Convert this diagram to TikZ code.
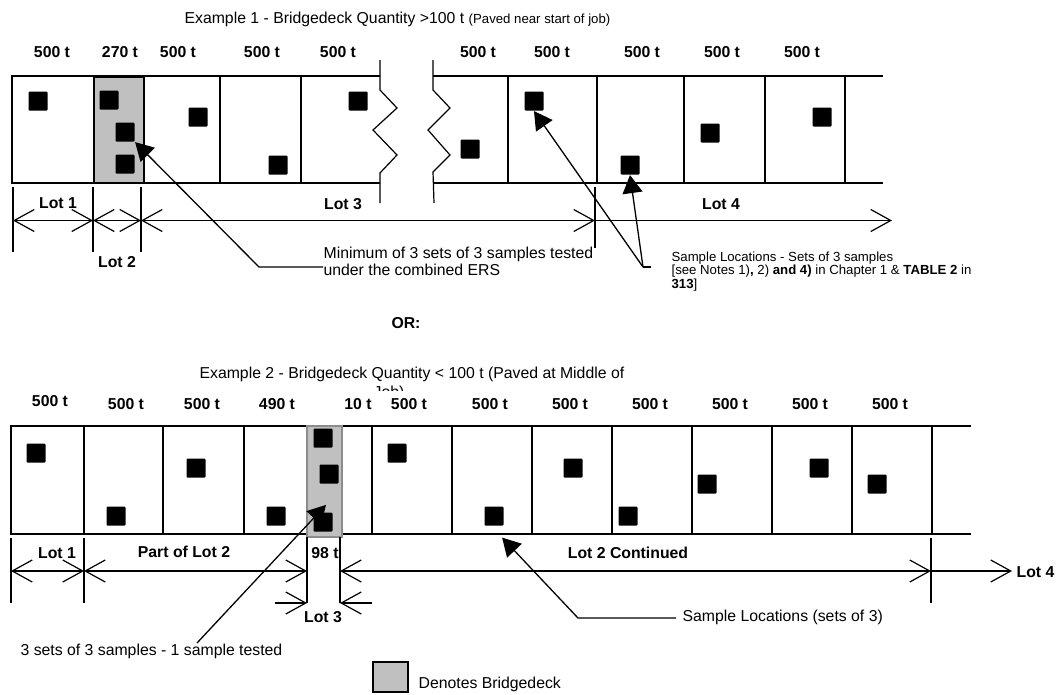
\documentclass[tikz,border=0pt]{standalone}
\usepackage{fontspec}
\setmainfont{Liberation Sans}
\usetikzlibrary{arrows.meta}
\definecolor{deckgray}{HTML}{C0C0C0}
\newcommand\mainsz{\fontsize{15.8}{17}\selectfont}
\newcommand\smlsz{\fontsize{13.2}{13.5}\selectfont}
\tikzset{
  barb/.tip={Straight Barb[length=20pt,width=22pt]},
  tri/.tip={Triangle[length=18pt,width=20pt]},
}
\begin{document}
\begin{tikzpicture}[x=1pt,y=-1pt,line width=1.2pt,
  sq/.style={fill=black,draw=none,minimum size=19pt,inner sep=0pt,rounded corners=1pt},
  lbl/.style={font=\mainsz\bfseries,inner sep=0pt},
  txt/.style={font=\mainsz,inner sep=0pt,anchor=base west,align=left},
  mtxt/.style={font=\mainsz,inner sep=0pt,anchor=north west,align=left},
  sml/.style={font=\smlsz,inner sep=0pt,anchor=north west,align=left},
  deckA/.style={fill=deckgray,draw=black,line width=1.5pt},
  deckB/.style={fill=deckgray,draw=black!45,line width=1.5pt},
  dimlr/.style={line width=1.2pt,barb-barb},
  dimr/.style={line width=1.2pt,-barb},
  lead/.style={line width=1.3pt,-tri},
]
\useasboundingbox (0,0) rectangle (1057,694);

% ================= Example 1 =================
\node[txt] (t1) at (184,23.7) {Example 1 - Bridgedeck Quantity >100 t {\smlsz (Paved near start of job)}};

\foreach \x/\t/\n in {52/500 t/p1,120/270 t/p2,178/500 t/p3,262/500 t/p4,338/500 t/p5,
                      478/500 t/p6,552/500 t/p7,642/500 t/p8,722/500 t/p9,802/500 t/p10}
  \node[lbl] (\n) at (\x,52) {\t};

% strip, left part
\draw (380,76) -- (12,76) -- (12,183) -- (380,183);
\draw[deckA] (94,77) rectangle (144,183);
\draw (220,76) -- (220,183);
\draw (301,76) -- (301,183);
% break lines
\draw (380,60) -- (380,90) -- (397,108) -- (373,130) -- (397,155) -- (380,173) -- (380,203);
\draw (433,60) -- (433,90) -- (450,108) -- (428,130) -- (450,155) -- (433,172) -- (434,203);
% strip, right part
\draw (433,76) -- (883,76);
\draw (433,183) -- (883,183);
\foreach \x in {508,597,684,765,845} \draw (\x,76) -- (\x,183);

% samples
\node[sq] (a1) at (38,101) {};
\node[sq] (a2) at (109,100) {};
\node[sq] (a3) at (125,132) {};
\node[sq] (a4) at (125,164) {};
\node[sq] (a5) at (198,117) {};
\node[sq] (a6) at (278,165) {};
\node[sq] (a7) at (358,101) {};
\node[sq] (a8) at (470,149) {};
\node[sq] (a9) at (534,101) {};
\node[sq] (a10) at (630,165) {};
\node[sq] (a11) at (710,133) {};
\node[sq] (a12) at (822,117) {};

% lots
\draw (13,187) -- (13,252);
\draw (93,187) -- (93,252);
\draw (141,187) -- (141,252);
\draw (595,187) -- (595,248);
\coordinate (d0) at (13,220.5);
\coordinate (d1) at (93,220.5);
\coordinate (d2) at (141,220.5);
\coordinate (d3) at (595,220.5);
\coordinate (d4) at (892,220.5);
\draw[dimlr] (d0) -- (d1);
\draw[dimlr] (d1) -- (d2);
\draw[dimlr] (d2) -- (d3);
\draw[dimr] (d3) -- (d4);
\node[lbl] (lot1) at (58,203) {Lot 1};
\node[lbl] (lot2) at (117,262) {Lot 2};
\node[lbl] (lot3) at (343,204) {Lot 3};
\node[lbl] (lot4) at (721,204) {Lot 4};

% callouts
\node[mtxt] (c1) at (323,246) {Minimum of 3 sets of 3 samples tested\\under the combined ERS};
\coordinate (e1) at (259,267);
\draw[lead] (e1 -| c1.west) -- (e1) -- (a3.south east);

\node[sml] (c2) at (671,251) {Sample Locations - Sets of 3 samples\\
{[}see Notes 1)\textbf{,} 2) \textbf{and 4)} in Chapter 1 \& \textbf{TABLE 2} in\\
\textbf{313}{]}};
\coordinate (e2) at (643,267);
\coordinate (e2end) at (651,267);
\draw (e2end) -- (e2);
\draw[lead] (e2) -- (a9.south);
\draw[lead] (e2) -- (a10.south);

\node[lbl] (or) at (406,323) {OR:};

% ================= Example 2 =================
\node[txt] (t2) at (199,378.7) {Example 2 - Bridgedeck Quantity < 100 t (Paved at Middle of};
\begin{scope}
  \clip (350,370) rectangle (460,390);
  \node[txt] (t2b) at (373,397.3) {Job)};
\end{scope}

\node[lbl] (q1) at (50,401) {500 t};
\foreach \x/\t/\n in {126/500 t/q2,202/500 t/q3,277/490 t/q4,358/10 t/q5,409/500 t/q6,
                      490/500 t/q7,570/500 t/q8,650/500 t/q9,730/500 t/q10,810/500 t/q11,890/500 t/q12}
  \node[lbl] (\n) at (\x,404.5) {\t};

\draw (971,426) -- (11,426) -- (11,534) -- (971,534);
\draw[deckB] (307,426) rectangle (342,537);
\foreach \x in {84,163,244,372,452,532,612,692,772,852,932} \draw (\x,426) -- (\x,534);

\node[sq] (b1) at (36,453) {};
\node[sq] (b2) at (116,516) {};
\node[sq] (b3) at (196,468) {};
\node[sq] (b4) at (276,516) {};
\node[sq] (b5) at (323,438) {};
\node[sq] (b6) at (329,474) {};
\node[sq] (b7) at (323,522) {};
\node[sq] (b8) at (397,453) {};
\node[sq] (b9) at (494,516) {};
\node[sq] (b10) at (573,468) {};
\node[sq] (b11) at (628,516) {};
\node[sq] (b12) at (707,484) {};
\node[sq] (b13) at (819,468) {};
\node[sq] (b14) at (877,484) {};

% lots
\draw (11,538) -- (11,603);
\draw (84,538) -- (84,603);
\draw (307,537) -- (307,603);
\draw (340,537) -- (340,603);
\draw (931,538) -- (931,603);
\coordinate (f0) at (11,571);
\coordinate (f1) at (84,571);
\coordinate (f2) at (307,571);
\coordinate (f3) at (340,571);
\coordinate (f4) at (931,571);
\coordinate (f5) at (1012,571);
\draw[dimlr] (f0) -- (f1);
\draw[dimlr] (f1) -- (f2);
\draw[dimlr] (f3) -- (f4);
\draw[dimr] (f4) -- (f5);
\coordinate (g0) at (275,603);
\coordinate (g1) at (307,603);
\coordinate (g2) at (340,603);
\coordinate (g3) at (372,603);
\draw[dimr] (g0) -- (g1);
\draw[dimr] (g3) -- (g2);

\node[lbl] (m1) at (57,553) {Lot 1};
\node[lbl] (m2) at (184,552) {Part of Lot 2};
\node[lbl] (m98) at (325,553) {98 t};
\node[lbl] (m3) at (323,617) {Lot 3};
\node[lbl] (m4) at (628,553) {Lot 2 Continued};
\node[lbl,anchor=west] (m5) at (1016,572) {Lot 4};

\node[txt] (c3) at (20,655.7) {3 sets of 3 samples - 1 sample tested};
\coordinate (e3) at (197,643);
\draw[lead] (e3) -- ([shift={(3,-7)}]b7.north);

\node[txt] (c4) at (682,621.7) {Sample Locations (sets of 3)};
\coordinate (e4) at (578,618);
\coordinate (e4end) at (676,618);
\draw[lead] (e4end) -- (e4) -- ([shift={(-2,11.5)}]b9.south east);

% legend
\draw[fill=deckgray,draw=black,line width=1.5pt] (373,662) rectangle (408,692);
\node[txt] (leg) at (418,688.7) {Denotes Bridgedeck};
\end{tikzpicture}
\end{document}
